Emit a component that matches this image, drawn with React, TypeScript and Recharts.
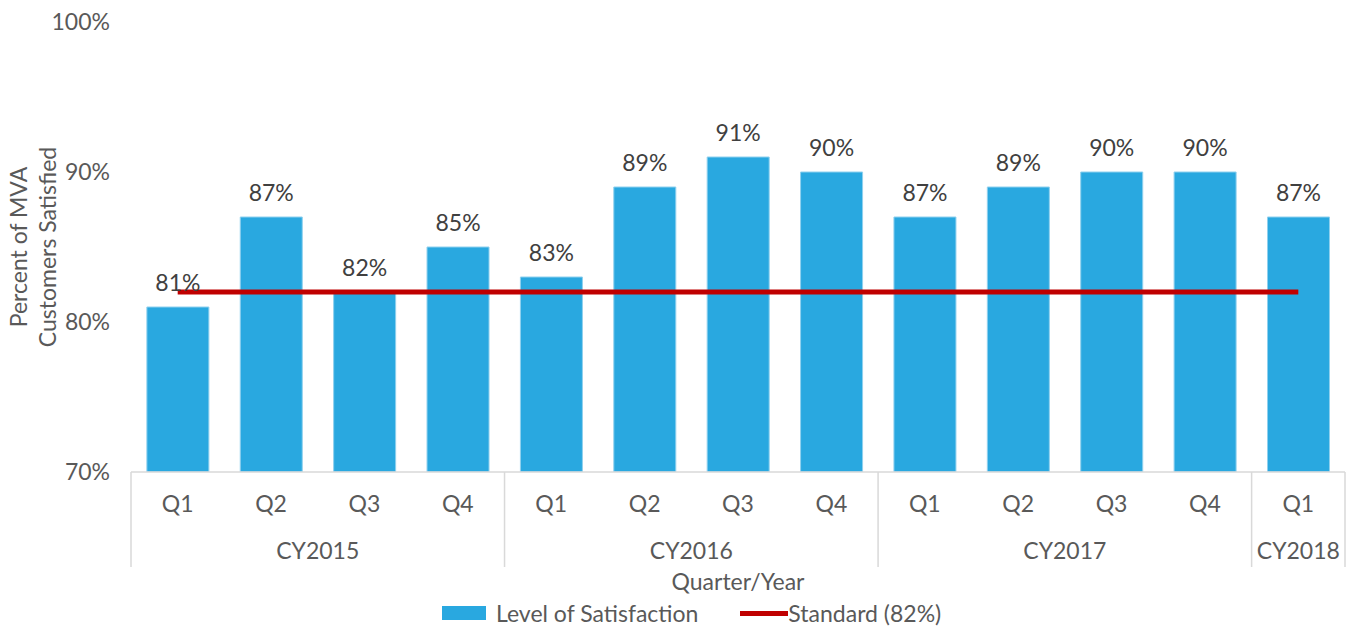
import React from 'react';
import { ComposedChart, Bar, Line, XAxis, YAxis, LabelList, Legend } from 'recharts';

const quarters = ['Q1', 'Q2', 'Q3', 'Q4', 'Q1', 'Q2', 'Q3', 'Q4', 'Q1', 'Q2', 'Q3', 'Q4', 'Q1'];
const years = ['CY2015', 'CY2015', 'CY2015', 'CY2015', 'CY2016', 'CY2016', 'CY2016', 'CY2016', 'CY2017', 'CY2017', 'CY2017', 'CY2017', 'CY2018'];
const satisfaction = [81, 87, 82, 85, 83, 89, 91, 90, 87, 89, 90, 90, 87];
const standard = [82, 82, 82, 82, 82, 82, 82, 82, 82, 82, 82, 82, 82];
const yTicks = [70, 80, 90, 100];

const W = 1347;
const H = 628;
const MARGIN = { top: 22, right: 2, bottom: 36, left: 0 };
const Y_WIDTH = 131;
const BAND = (W - Y_WIDTH - MARGIN.right) / quarters.length;

const FONT = 'Lato, "Open Sans", sans-serif';
const FS = 23;
const TEXT = '#595959';
const GRID = '#d9d9d9';
const BLUE = '#29A8E0';
const RED = '#C00000';

const data = quarters.map((q, i) => ({
  key: `${years[i]}-${q}`,
  q,
  year: years[i],
  satisfaction: satisfaction[i],
  standard: standard[i],
}));

// two-level category axis: quarter row, year row and group separators
function QuarterTick(props: any) {
  const { x, y, payload } = props;
  const i = payload.index;
  const year = years[i];
  const first = i === 0 || years[i - 1] !== year;
  const last = i === quarters.length - 1;
  const count = years.filter((v) => v === year).length;
  return (
    <g>
      <text x={x} y={y + 40} textAnchor="middle" fill={TEXT} fontSize={FS} fontFamily={FONT}>
        {quarters[i]}
      </text>
      {first && (
        <line x1={x - BAND / 2} x2={x - BAND / 2} y1={y} y2={y + 95} stroke={GRID} strokeWidth={1.5} />
      )}
      {last && (
        <line x1={x + BAND / 2} x2={x + BAND / 2} y1={y} y2={y + 95} stroke={GRID} strokeWidth={1.5} />
      )}
      {first && (
        <text x={x + ((count - 1) / 2) * BAND} y={y + 87} textAnchor="middle" fill={TEXT} fontSize={FS} fontFamily={FONT}>
          {year}
        </text>
      )}
    </g>
  );
}

function YTitle() {
  const cy = 247;
  return (
    <g fontFamily={FONT} fontSize={FS} fill={TEXT}>
      <text x={18} y={cy} transform={`rotate(-90 18 ${cy})`} textAnchor="middle" dominantBaseline="central">
        Percent of MVA
      </text>
      <text x={47} y={cy} transform={`rotate(-90 47 ${cy})`} textAnchor="middle" dominantBaseline="central">
        Customers Satisfied
      </text>
    </g>
  );
}

function LegendContent() {
  return (
    <div style={{ display: 'flex', alignItems: 'center', paddingLeft: 442, fontFamily: FONT, fontSize: FS, color: TEXT, height: 26 }}>
      <span style={{ display: 'inline-block', width: 44, height: 14, background: BLUE, marginRight: 10 }} />
      <span>Level of Satisfaction</span>
      <span style={{ display: 'inline-block', width: 48, height: 5, background: RED, marginLeft: 42 }} />
      <span>Standard (82%)</span>
    </div>
  );
}

export default function App() {
  return (
    <div style={{ position: 'absolute', left: 0, top: 0, width: W, height: H, background: '#fff' }}>
      <ComposedChart width={W} height={H} data={data} margin={MARGIN} barCategoryGap="17%">
        <XAxis
          dataKey="key"
          height={120}
          axisLine={{ stroke: GRID, strokeWidth: 1.5 }}
          tickLine={false}
          tickSize={0}
          tickMargin={0}
          interval={0}
          tick={<QuarterTick />}
          label={{ value: 'Quarter/Year', position: 'insideBottom', offset: 2, fill: TEXT, fontSize: FS, fontFamily: FONT }}
        />
        <YAxis
          width={Y_WIDTH}
          domain={[70, 100]}
          ticks={yTicks}
          allowDataOverflow
          axisLine={false}
          tickLine={false}
          tickMargin={15}
          tickFormatter={(v: number) => `${v}%`}
          tick={{ fill: TEXT, fontSize: FS, fontFamily: FONT }}
          label={<YTitle />}
        />
        <Bar
          dataKey="satisfaction"
          name="Level of Satisfaction"
          fill={BLUE}
          stroke="#8fd0ee"
          strokeWidth={1}
          isAnimationActive={false}
        >
          <LabelList
            dataKey="satisfaction"
            position="top"
            offset={16}
            formatter={(v: any) => `${v}%`}
            fill="#404040"
            fontSize={FS}
            fontFamily={FONT}
          />
        </Bar>
        <Line
          dataKey="standard"
          name="Standard (82%)"
          type="linear"
          stroke={RED}
          strokeWidth={5}
          dot={false}
          activeDot={false}
          isAnimationActive={false}
        />
        <Legend
          layout="vertical"
          align="center"
          verticalAlign="middle"
          wrapperStyle={{ top: 600, left: 0, width: W, height: 26 }}
          content={() => <LegendContent />}
        />
      </ComposedChart>
    </div>
  );
}
